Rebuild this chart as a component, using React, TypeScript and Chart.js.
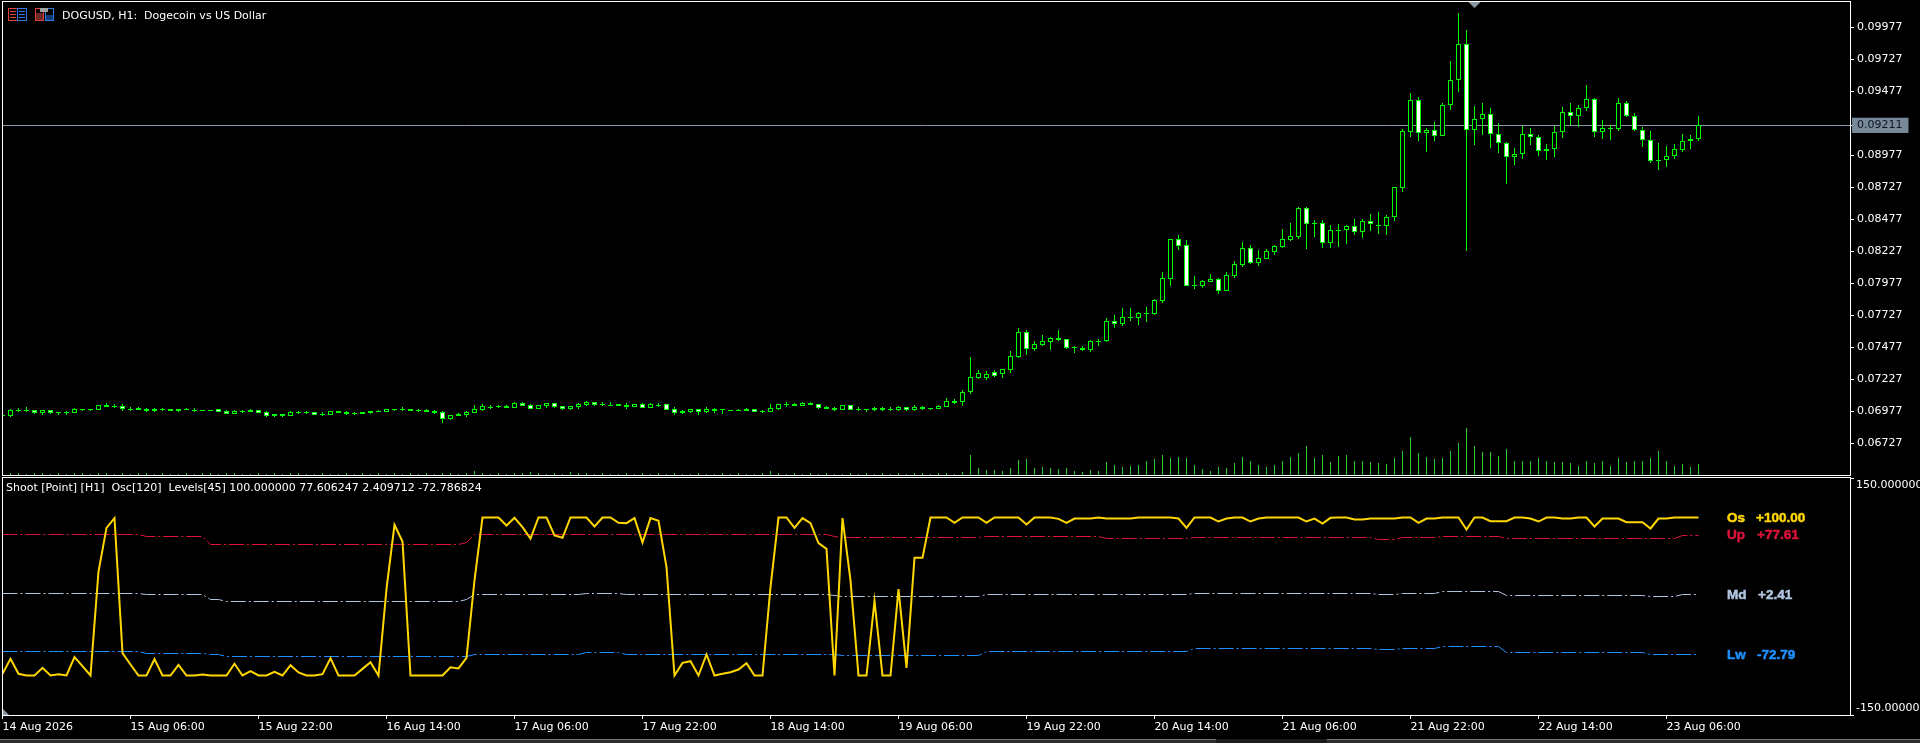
import React, { useEffect, useRef } from "react";
import { Chart, registerables } from "chart.js";

Chart.register(...registerables);

// Prices are stored in MT5 points: 1 point = 0.00001
const opens = [
  6943,6943,6987,6990,6985,6966,6985,6969,6969,6966,
  6998,6998,6990,7026,7019,7016,6998,7000,6995,6995,
  6992,6992,6992,6992,6990,6990,6990,6992,6979,6959,
  6979,6987,6985,6969,6953,6953,6943,6969,6969,6969,
  6956,6951,6977,6969,6961,6972,6979,6979,6974,6992,
  6992,6995,6985,6987,6982,6969,6920,6956,6948,6966,
  6987,7013,7016,7019,7005,7039,7024,6998,7021,7039,
  7016,6998,7011,7026,7047,7034,7029,7034,7029,7013,
  7034,7005,7026,7034,6992,6977,6974,6992,6974,6992,
  6992,6985,6987,6995,6992,6977,6974,6998,7032,7034,
  7021,7042,7032,7011,7003,6990,7024,6995,6995,7003,
  7003,6995,6987,7008,6987,7011,7003,6998,7013,7060,
  7047,7125,7237,7237,7284,7266,7302,7401,7594,7464,
  7495,7521,7550,7539,7477,7474,7456,7529,7526,7680,
  7662,7711,7708,7742,7737,7841,8013,8320,8274,7966,
  7958,7990,8008,7919,8037,8123,8250,8138,8170,8224,
  8261,8318,8341,8563,8448,8445,8294,8393,8396,8422,
  8380,8461,8435,8427,8492,8724,9162,9406,9149,9172,
  9130,9367,9563,9844,9172,9258,9297,9141,9071,8961,
  8985,9141,9118,9008,9024,9156,9313,9282,9344,9414,
  9156,9188,9180,9383,9282,9172,9094,8943,8943,8969,
  9021,9086,9102,
];
const closes = [
  6946,6985,6987,6990,6966,6985,6966,6969,6969,6992,
  6987,6987,7024,7013,7019,6998,6998,6990,6982,6982,
  6992,6982,6982,6992,6990,6990,6990,6974,6959,6979,
  6979,6974,6966,6943,6943,6943,6969,6969,6969,6951,
  6956,6977,6966,6956,6961,6959,6966,6972,6995,6992,
  6992,6982,6985,6974,6966,6920,6946,6943,6972,6995,
  7016,7013,7016,7005,7039,7021,6998,7024,7039,7013,
  6998,7016,7034,7050,7029,7034,7029,7021,7013,7031,
  7005,7034,7026,6990,6966,6966,6992,6974,6995,6982,
  6992,6985,6987,6982,6974,6977,7000,7032,7032,7021,
  7042,7029,7005,6998,6987,7024,6990,6995,6995,6987,
  6987,6995,7011,6987,7011,6995,7003,7016,7055,7044,
  7125,7245,7276,7268,7253,7305,7406,7594,7466,7500,
  7524,7547,7534,7474,7477,7459,7524,7529,7680,7662,
  7711,7711,7742,7742,7844,8016,8320,8271,7958,7966,
  7992,8008,7919,8039,8125,8250,8136,8172,8227,8266,
  8320,8344,8563,8443,8448,8294,8391,8393,8422,8380,
  8461,8438,8435,8492,8727,9164,9406,9149,9172,9130,
  9367,9563,9844,9172,9258,9297,9141,9071,8961,8985,
  9141,9118,9008,9024,9156,9313,9282,9344,9414,9156,
  9188,9188,9383,9282,9172,9094,8935,8943,8969,9024,
  9086,9102,9211,
];
const highs = [
  6946,6995,7003,7008,6985,6985,6990,6969,6982,7000,
  6998,6998,7024,7039,7034,7034,7013,7011,7003,7003,
  7003,6992,6992,7003,7003,6990,6990,6992,6987,6987,
  6990,6995,6985,6982,6953,6953,6979,6982,6982,6969,
  6972,6977,6977,6979,6974,6972,6979,6987,6995,6992,
  7008,6995,6998,6995,6990,6979,6946,6964,6979,7026,
  7034,7029,7029,7026,7047,7049,7034,7024,7039,7039,
  7016,7016,7042,7057,7047,7050,7047,7034,7039,7031,
  7042,7042,7042,7034,7008,6985,6992,6992,7008,7000,
  6992,6985,6995,7003,6992,6987,7034,7032,7047,7042,
  7050,7050,7032,7018,7011,7024,7024,7011,6995,7011,
  7011,7011,7018,7008,7026,7018,7003,7024,7081,7073,
  7143,7400,7298,7290,7300,7305,7445,7625,7612,7524,
  7573,7557,7612,7539,7487,7487,7534,7542,7703,7729,
  7784,7784,7753,7792,7854,8065,8320,8354,8315,8034,
  8003,8050,8018,8063,8151,8300,8276,8237,8245,8276,
  8399,8448,8570,8573,8471,8471,8430,8440,8430,8479,
  8477,8518,8534,8511,8727,9180,9461,9433,9188,9237,
  9383,9714,10086,9956,9360,9386,9347,9229,9081,9032,
  9206,9190,9133,9065,9206,9354,9386,9370,9526,9422,
  9253,9211,9425,9401,9308,9198,9167,9073,9050,9063,
  9143,9133,9284,
];
const lows = [
  6943,6935,6972,6972,6959,6948,6956,6948,6948,6966,
  6982,6982,6990,7013,7003,6979,6979,6990,6972,6972,
  6982,6982,6972,6985,6972,6982,6982,6974,6959,6959,
  6966,6974,6966,6933,6935,6935,6943,6956,6956,6951,
  6938,6951,6966,6948,6948,6959,6956,6972,6974,6979,
  6979,6982,6972,6974,6956,6886,6909,6943,6933,6966,
  6979,6995,7003,7005,7005,7021,6998,6998,7005,7003,
  6987,6990,6995,7019,7019,7019,7026,7021,6998,7013,
  7005,7005,7011,6990,6951,6956,6964,6948,6964,6966,
  6956,6977,6982,6982,6974,6964,6972,6987,7011,7021,
  7021,7029,6995,6998,6979,6990,6990,6979,6972,6979,
  6979,6979,6979,6979,6979,6987,6987,6998,7013,7034,
  7018,7112,7227,7225,7245,7240,7279,7393,7417,7448,
  7487,7456,7526,7464,7432,7448,7443,7487,7518,7628,
  7643,7682,7651,7675,7729,7823,7956,8237,7956,7932,
  7940,7990,7893,7919,8018,8104,8128,8112,8167,8198,
  8253,8307,8323,8245,8339,8253,8253,8261,8284,8354,
  8331,8386,8362,8354,8464,8690,9123,9089,9003,9089,
  9130,9334,9472,8232,9058,9136,9034,8995,8756,8904,
  8951,9058,8972,8940,8964,9112,9211,9196,9323,9120,
  9104,9097,9167,9274,9164,9042,8917,8862,8886,8948,
  9003,9026,9089,
];
const volumes = [
  100,200,200,100,200,200,100,200,100,200,
  200,100,200,200,100,200,100,200,200,100,
  200,100,100,200,100,200,200,100,200,200,
  100,100,200,100,200,100,200,200,100,100,
  200,100,100,200,100,200,100,200,100,200,
  100,200,100,200,100,200,200,100,200,400,
  200,100,200,100,200,200,300,200,100,200,
  100,300,200,200,100,200,100,100,200,100,
  200,100,200,100,200,100,100,200,100,100,
  200,100,200,100,100,200,400,200,100,200,
  100,200,100,200,100,100,200,100,200,100,
  200,100,200,100,200,200,100,200,200,100,
  300,2000,700,500,500,400,700,1500,1600,700,
  800,700,600,700,400,300,500,400,1300,1000,
  800,900,1000,1400,1600,2000,1700,1800,1700,1000,
  600,400,800,700,1200,1800,1400,1000,800,1000,
  1400,1800,2200,2900,1700,2000,1300,1900,2000,1400,
  1400,1300,1200,1100,1700,2400,3800,2200,1800,1600,
  1700,2400,3200,4700,2900,2300,2300,1900,2600,1400,
  1400,1400,1700,1400,1300,1300,1200,900,1400,1200,
  1400,900,1700,1300,1400,1400,1700,2400,1400,900,
  1100,800,1100,
];
const oscillator = [
  -97.9,-78.9,-97.9,-100,-100,-90.3,-100,-98.3,-100,-76.8,
  -88.2,-100,31.6,86.9,99.2,-71.7,-86.1,-100,-100,-79.3,
  -100,-100,-86.5,-100,-100,-98.7,-100,-100,-100,-85.2,
  -100,-94.5,-100,-100,-95.4,-100,-86.9,-96.2,-100,-100,
  -98.3,-78.1,-100,-100,-100,-91.6,-83.1,-100,9.7,90.7,
  69.6,-100,-100,-100,-100,-100,-89.5,-91.1,-77.6,20.3,
  100,100,100,89.9,99.6,87.8,73.4,100,100,77.2,
  74.3,100,100,100,88.6,100,100,93.2,92.8,99.2,
  68.4,99.2,95.8,37.1,-100,-84,-81.9,-100,-73.4,-100,
  -97.9,-95.8,-92.4,-84.4,-100,-100,11.8,100,100,86.9,
  99.2,92.8,67.5,60.3,-100,99.2,20.3,-100,-100,-5.9,
  -100,-100,9.3,-90.3,48.9,48.9,100,100,100,93.2,
  100,100,100,93.2,100,100,100,100,91.1,100,
  100,100,98.3,93.2,98.7,98.7,98.7,100,98.7,98.7,
  98.7,98.7,100,100,100,100,100,98.7,86.9,100,
  100,100,94.9,98.7,100,100,94.9,98.7,100,100,
  100,100,100,94.9,98.7,92.4,99.6,100,100,97.5,
  97.5,98.7,98.7,98.7,98.7,100,100,93.2,98.7,98.7,
  100,100,100,84.8,100,100,95.4,95.4,95.4,100,
  100,98.7,94.9,100,100,98.7,98.7,100,100,88.6,
  98.7,98.7,98.7,94.1,94.1,94.1,86.1,98.7,98.7,100,
  100,100,100,
];

// Adaptive levels: [bar, value] vertices
const upperLevel = [
  [0,78],[17,78],[18,76.4],[25,76.4],[26,65.4],[57,65.4],[58,68.8],[59,78],[103,78],[104,76.4],
  [105,74.3],[122,74.3],[123,75.5],[137,75.5],[138,73],[148,73],[149,74.3],[171,74.3],[172,71.7],
  [174,71.7],[175,74.3],[179,74.3],[180,75.5],[187,75.5],[188,73],[209,73],[210,77.61],[212,77.61],
];
const middleLevel = [
  [0,3.4],[17,3.4],[18,2.1],[25,2.1],[26,-3.8],[27,-3.8],[28,-6.3],[57,-6.3],[58,-4.2],[59,2.1],
  [72,2.1],[73,3.4],[77,3.4],[78,2.1],[103,2.1],[105,-0.42],[122,-0.42],[123,2.1],[148,2.1],[149,3.4],
  [171,3.4],[172,2.1],[174,2.1],[175,3.4],[179,3.4],[180,5.9],[187,5.9],[188,0.85],[205,0.85],
  [206,-0.42],[209,-0.42],[210,2.41],[212,2.41],
];
const lowerLevel = [
  [0,-70],[17,-70],[18,-72.6],[25,-72.6],[26,-73.8],[27,-73.8],[28,-76.4],[58,-76.4],[59,-73.8],
  [72,-73.8],[73,-71.3],[77,-71.3],[78,-73.8],[104,-73.8],[105,-75.1],[122,-75.1],[123,-70],[148,-70],
  [149,-66.2],[171,-66.2],[172,-67.5],[174,-67.5],[175,-66.2],[179,-66.2],[180,-63.7],[187,-63.7],
  [188,-71.3],[205,-71.3],[206,-73.4],[212,-73.4],
];

const currentPrice = 9211;
const priceTicks = [6727,6977,7227,7477,7727,7977,8227,8477,8727,8977,9211,9477,9727,9977];
const oscTicks = [-150, 150];
const timeTickBars = [0,16,32,48,64,80,96,112,128,144,160,176,192,208];
const timeLabels = [
  "14 Aug 2026","15 Aug 06:00","15 Aug 22:00","16 Aug 14:00","17 Aug 06:00","17 Aug 22:00","18 Aug 14:00",
  "19 Aug 06:00","19 Aug 22:00","20 Aug 14:00","21 Aug 06:00","21 Aug 22:00","22 Aug 14:00","23 Aug 06:00",
];
const chartTitle = "DOGUSD, H1:  Dogecoin vs US Dollar";
const oscTitle = "Shoot [Point] [H1]  Osc[120]  Levels[45] 100.000000 77.606247 2.409712 -72.786824";
const levelLegend = [
  { name: "Os", value: "+100.00", color: "#FFD700", y: 518, vx: 1756 },
  { name: "Up", value: "+77.61", color: "#DC143C", y: 535, vx: 1757 },
  { name: "Md", value: "+2.41", color: "#B0C4DE", y: 595, vx: 1758 },
  { name: "Lw", value: "-72.79", color: "#1E90FF", y: 655, vx: 1757 },
];

const FONT = "'DejaVu Sans'";
const LIME = "#00FF00";
const X_MIN = 0.0625;
const X_MAX = 230.9375;

const bars = opens.map((_, i) => i);

function pinWidth(scale: any) {
  scale.width = 70;
  scale.paddingTop = 0;
  scale.paddingBottom = 0;
}

const snapBars = {
  id: "snapBars",
  afterDatasetsUpdate(chart: any) {
    chart.getSortedVisibleDatasetMetas().forEach((meta: any) => {
      if (meta.type === "bar") {
        meta.data.forEach((el: any) => {
          el.y = Math.round(el.y);
          el.base = Math.round(el.base);
          if (el.y === el.base) el.base = el.y + 1;
        });
      } else if (meta.dataset && meta.dataset.options.borderWidth === 1) {
        meta.data.forEach((el: any) => { el.y = Math.floor(el.y) + 0.5; });
      }
    });
  },
};

function drawFrame(ctx: CanvasRenderingContext2D, a: any) {
  ctx.strokeStyle = "#FFFFFF";
  ctx.lineWidth = 1;
  ctx.strokeRect(a.left - 0.5, a.top - 0.5, a.right - a.left + 1, a.bottom - a.top + 1);
}

const mainDecor = {
  id: "mainDecor",
  afterDraw(chart: any) {
    const { ctx, chartArea, scales } = chart;
    ctx.save();
    drawFrame(ctx, chartArea);
    ctx.fillStyle = "#FFFFFF";
    ctx.font = `11px ${FONT}`;
    ctx.textBaseline = "middle";
    ctx.textAlign = "left";
    ctx.fillText(chartTitle, 62, 16);
    // toolbar icons
    ctx.lineWidth = 1;
    ctx.strokeStyle = "#E0433C"; ctx.strokeRect(8.5, 8.5, 9, 12);
    ctx.strokeStyle = "#2F7BEA"; ctx.strokeRect(17.5, 8.5, 9, 12);
    ctx.fillStyle = "#E0433C";
    ctx.fillRect(10, 11, 6, 1); ctx.fillRect(10, 14, 6, 1); ctx.fillRect(10, 17, 6, 1);
    ctx.fillStyle = "#2F7BEA";
    ctx.fillRect(19, 11, 6, 1); ctx.fillRect(19, 14, 6, 1); ctx.fillRect(19, 17, 6, 1);
    ctx.strokeStyle = "#E0433C"; ctx.strokeRect(35.5, 8.5, 8, 12);
    ctx.fillStyle = "#6E2A28"; ctx.fillRect(36, 13, 7, 7);
    ctx.strokeStyle = "#2F7BEA"; ctx.strokeRect(45.5, 8.5, 8, 12);
    ctx.fillStyle = "#123A7A"; ctx.fillRect(46, 15, 7, 5);
    ctx.fillStyle = "#A0A0A0"; ctx.fillRect(40, 8, 8, 4);
    // highest-price marker at the top edge
    const mx = scales.x.getPixelForValue(184);
    ctx.fillStyle = "#8B97A5";
    ctx.beginPath();
    ctx.moveTo(mx - 6, 2); ctx.lineTo(mx + 6, 2); ctx.lineTo(mx, 8); ctx.closePath();
    ctx.fill();
    ctx.restore();
  },
};

const oscDecor = {
  id: "oscDecor",
  afterDraw(chart: any) {
    const { ctx, chartArea } = chart;
    ctx.save();
    drawFrame(ctx, chartArea);
    ctx.fillStyle = "#FFFFFF";
    ctx.font = `11px ${FONT}`;
    ctx.textBaseline = "middle";
    ctx.textAlign = "left";
    ctx.fillText(oscTitle, 6, 12);
    ctx.font = `bold 13.5px 'Liberation Sans'`;
    ctx.lineWidth = 0.5;
    levelLegend.forEach((l) => {
      ctx.fillStyle = l.color;
      ctx.strokeStyle = l.color;
      ctx.fillText(l.name, 1727, l.y - 476);
      ctx.strokeText(l.name, 1727, l.y - 476);
      ctx.fillText(l.value, l.vx, l.y - 476);
      ctx.strokeText(l.value, l.vx, l.y - 476);
    });
    // corner mark
    ctx.fillStyle = "#8B97A5";
    ctx.beginPath();
    ctx.moveTo(3, 233); ctx.lineTo(3, 239); ctx.lineTo(9, 239); ctx.closePath();
    ctx.fill();
    // tab strip below the time axis
    ctx.fillStyle = "#2E2E2E"; ctx.fillRect(0, 263, 1216, 4); ctx.fillRect(1327, 263, 593, 4);
    ctx.fillStyle = "#1C1C1C"; ctx.fillRect(1216, 263, 111, 4);
    ctx.fillStyle = "#7A7A7A"; ctx.fillRect(0, 263, 1216, 1); ctx.fillRect(1327, 263, 593, 1);
    ctx.restore();
  },
};

export default function App() {
  const mainRef = useRef<HTMLCanvasElement>(null);
  const oscRef = useRef<HTMLCanvasElement>(null);

  useEffect(() => {
    const main = new Chart(mainRef.current as any, {
      type: "bar",
      data: {
        datasets: [
          {
            type: "line",
            data: [{ x: X_MIN, y: currentPrice }, { x: X_MAX, y: currentPrice }],
            borderColor: "#8A97A8",
            borderWidth: 1,
            pointRadius: 0,
            order: 5,
          },
          {
            data: bars.map((i) => ({ x: i, y: volumes[i] })),
            yAxisID: "yVol",
            backgroundColor: "#32CD32",
            borderWidth: 0,
            barThickness: 1,
            inflateAmount: 0,
            order: 4,
          },
          {
            data: bars.map((i) => ({ x: i, y: [lows[i], highs[i]] })),
            backgroundColor: LIME,
            borderWidth: 0,
            barThickness: 1,
            inflateAmount: 0,
            order: 3,
          },
          {
            data: bars.map((i) => ({ x: i, y: [opens[i], closes[i]] })),
            backgroundColor: (c: any) => (opens[c.dataIndex] > closes[c.dataIndex] ? "#FFFFFF" : "#000000"),
            borderColor: LIME,
            borderWidth: 1,
            borderSkipped: false,
            barThickness: 5,
            inflateAmount: 0,
            order: 2,
          },
        ] as any,
      },
      options: {
        animation: false,
        responsive: false,
        devicePixelRatio: 1,
        events: [],
        grouped: false,
        layout: { padding: { left: 3, top: 2, bottom: 3, right: 0 } },
        plugins: { legend: { display: false }, tooltip: { enabled: false } },
        scales: {
          x: { type: "linear", display: false, min: X_MIN, max: X_MAX, offset: false },
          y: {
            type: "linear",
            position: "right",
            min: 6479.4,
            max: 10174.7,
            afterFit: pinWidth,
            afterBuildTicks: (s: any) => { s.ticks = priceTicks.map((value) => ({ value })); },
            border: { display: false },
            grid: { drawOnChartArea: false, color: "#FFFFFF", tickLength: 4 },
            ticks: {
              autoSkip: false,
              padding: 3,
              font: { family: FONT, size: 11 },
              color: (c: any) => (c.tick.value === currentPrice ? "#101820" : "#FFFFFF"),
              showLabelBackdrop: (c: any) => c.tick.value === currentPrice,
              backdropColor: "#778899",
              backdropPadding: { left: 5, right: 6, top: 1, bottom: 1 },
              callback: (v: any) => (Number(v) / 100000).toFixed(5),
            },
          },
          yVol: { type: "linear", display: false, min: 0, max: 47300 },
        },
      } as any,
      plugins: [snapBars, mainDecor] as any,
    });

    const levelStyle = (points: number[][], color: string, order: number) => ({
      data: points.map(([x, y]) => ({ x, y })),
      borderColor: color,
      borderWidth: 1,
      borderDash: [15, 3, 2, 3],
      pointRadius: 0,
      order,
    });

    const osc = new Chart(oscRef.current as any, {
      type: "line",
      data: {
        datasets: [
          levelStyle(upperLevel, "#DC143C", 3),
          levelStyle(middleLevel, "#B0C4DE", 3),
          levelStyle(lowerLevel, "#1E90FF", 3),
          {
            data: bars.map((i) => ({ x: i, y: oscillator[i] })),
            borderColor: "#FFD700",
            borderWidth: 2,
            pointRadius: 0,
            borderJoinStyle: "miter",
            order: 1,
          },
        ] as any,
      },
      options: {
        animation: false,
        responsive: false,
        devicePixelRatio: 1,
        events: [],
        layout: { padding: { left: 3, top: 2, bottom: 4, right: 0 } },
        plugins: { legend: { display: false }, tooltip: { enabled: false } },
        scales: {
          x: {
            type: "linear",
            min: X_MIN,
            max: X_MAX,
            afterFit: (s: any) => {
              s.height = 24;
              s.paddingLeft = 0;
              s.paddingRight = 0;
            },
            afterBuildTicks: (s: any) => { s.ticks = timeTickBars.map((value) => ({ value })); },
            border: { display: false },
            grid: { drawOnChartArea: false, color: "#FFFFFF", tickLength: 4 },
            ticks: {
              autoSkip: false,
              maxRotation: 0,
              minRotation: 0,
              align: "start",
              padding: 2,
              color: "#FFFFFF",
              font: { family: FONT, size: 11 },
              callback: (v: any) => timeLabels[timeTickBars.indexOf(Number(v))],
            },
          },
          y: {
            type: "linear",
            position: "right",
            min: -150,
            max: 150,
            afterFit: pinWidth,
            afterBuildTicks: (s: any) => { s.ticks = oscTicks.map((value) => ({ value })); },
            border: { display: false },
            grid: { drawOnChartArea: false, color: "#FFFFFF", tickLength: 4 },
            ticks: {
              autoSkip: false,
              padding: 2,
              color: "#FFFFFF",
              font: { family: FONT, size: 11, lineHeight: "14px" },
              callback: (v: any) => (Number(v) > 0 ? ["", "150.000000"] : ["-150.00000", ""]),
            },
          },
        },
      } as any,
      plugins: [snapBars, oscDecor] as any,
    });

    return () => {
      main.destroy();
      osc.destroy();
    };
  }, []);

  return (
    <div style={{ position: "fixed", left: 0, top: 0, width: 1920, height: 743, background: "#000", overflow: "hidden" }}>
      <canvas ref={mainRef} width={1920} height={478} style={{ position: "absolute", left: 0, top: 0, width: 1920, height: 478 }} />
      <canvas ref={oscRef} width={1920} height={267} style={{ position: "absolute", left: 0, top: 476, width: 1920, height: 267 }} />
    </div>
  );
}
